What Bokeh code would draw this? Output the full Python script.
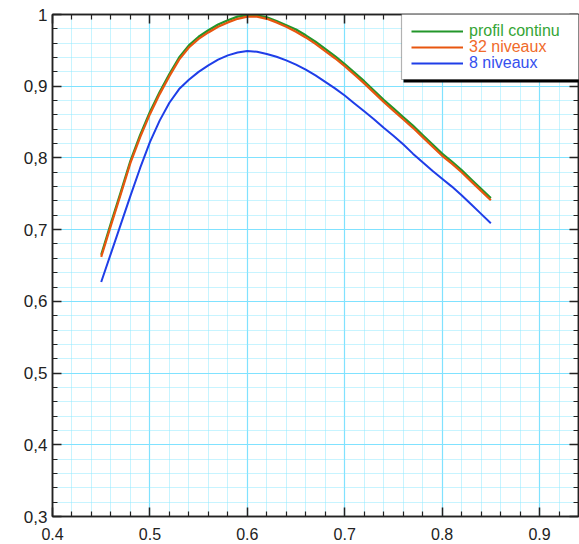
from bokeh.plotting import figure
from bokeh.models import (FixedTicker, LinearAxis, Range1d, Legend, LegendItem,
                          BoxAnnotation, CustomJSTickFormatter)
from bokeh.embed import file_html
from bokeh.resources import INLINE

# ---- data ----
x_vals = [0.45, 0.46, 0.47, 0.48, 0.49, 0.50, 0.51, 0.52, 0.53, 0.54, 0.55,
          0.56, 0.57, 0.58, 0.59, 0.60, 0.61, 0.62, 0.63, 0.64, 0.65, 0.66,
          0.67, 0.68, 0.69, 0.70, 0.71, 0.72, 0.73, 0.74, 0.75, 0.76, 0.77,
          0.78, 0.79, 0.80, 0.81, 0.82, 0.83, 0.84, 0.85]
profil_continu = [0.665, 0.709, 0.752, 0.796, 0.832, 0.864, 0.892, 0.917, 0.940, 0.957,
                  0.969, 0.978, 0.986, 0.992, 0.997, 0.999, 0.999, 0.996, 0.991, 0.985,
                  0.979, 0.971, 0.962, 0.952, 0.942, 0.931, 0.919, 0.907, 0.894, 0.881,
                  0.869, 0.857, 0.845, 0.832, 0.819, 0.806, 0.795, 0.783, 0.770, 0.757, 0.744]
niveaux_32 = [0.662, 0.706, 0.749, 0.793, 0.829, 0.861, 0.889, 0.914, 0.937, 0.954,
              0.966, 0.975, 0.983, 0.989, 0.994, 0.997, 0.997, 0.994, 0.989, 0.983,
              0.976, 0.968, 0.959, 0.949, 0.939, 0.928, 0.916, 0.904, 0.891, 0.878,
              0.866, 0.854, 0.842, 0.829, 0.816, 0.803, 0.792, 0.780, 0.767, 0.754, 0.741]
niveaux_8 = [0.627, 0.667, 0.707, 0.747, 0.786, 0.822, 0.852, 0.877, 0.896, 0.909,
             0.920, 0.929, 0.937, 0.943, 0.947, 0.949, 0.948, 0.945, 0.941, 0.936,
             0.930, 0.923, 0.915, 0.906, 0.897, 0.887, 0.876, 0.865, 0.854, 0.842,
             0.831, 0.819, 0.806, 0.794, 0.782, 0.771, 0.760, 0.748, 0.735, 0.722, 0.709]
series_labels = ["profil continu", "32 niveaux", "8 niveaux"]
x_major = [0.4, 0.5, 0.6, 0.7, 0.8, 0.9]
x_minor = [0.42, 0.44, 0.46, 0.48, 0.52, 0.54, 0.56, 0.58, 0.62, 0.64, 0.66, 0.68,
           0.72, 0.74, 0.76, 0.78, 0.82, 0.84, 0.86, 0.88, 0.92]
y_major = [0.3, 0.4, 0.5, 0.6, 0.7, 0.8, 0.9, 1.0]
y_minor = [0.32, 0.34, 0.36, 0.38, 0.42, 0.44, 0.46, 0.48, 0.52, 0.54, 0.56, 0.58,
           0.62, 0.64, 0.66, 0.68, 0.72, 0.74, 0.76, 0.78, 0.82, 0.84, 0.86, 0.88,
           0.92, 0.94, 0.96, 0.98]

# ---- styles ----
C_GREEN = "#22962a"
C_ORANGE = "#e8560f"
C_BLUE = "#1f3ee8"
T_GREEN = "#35a535"
T_ORANGE = "#f06a2a"
T_BLUE = "#3550ee"
FONT = "Liberation Sans"
FW, FH = 526, 502
X0, X1, Y0, Y1 = 0.4, 0.94, 0.3, 1.0

p = figure(frame_width=FW, frame_height=FH, output_backend="svg", toolbar_location=None,
           x_range=Range1d(X0, X1), y_range=Range1d(Y0, Y1),
           min_border_left=52, min_border_right=1, min_border_top=14, min_border_bottom=28,
           x_axis_location=None, y_axis_location=None)
p.outline_line_color = "#222222"
p.outline_line_width = 1.5
p.background_fill_color = "white"
p.border_fill_color = "white"

xt = FixedTicker(ticks=x_major, minor_ticks=x_minor)
yt = FixedTicker(ticks=y_major, minor_ticks=y_minor)

fx = CustomJSTickFormatter(code="return tick.toFixed(1);")
fy = CustomJSTickFormatter(code="return (Math.abs(tick-1)<1e-9) ? '1' : tick.toFixed(1).replace('.', ',');")
fnone = CustomJSTickFormatter(code="return '';")

def style_axis(ax, show_labels, size):
    ax.axis_line_color = "#222222"
    ax.axis_line_width = 1.5
    ax.major_tick_in = 9
    ax.major_tick_out = 0
    ax.minor_tick_in = 5
    ax.minor_tick_out = 0
    ax.major_tick_line_color = "#222222"
    ax.minor_tick_line_color = "#222222"
    ax.major_tick_line_width = 1.5
    ax.minor_tick_line_width = 1.2
    if show_labels:
        ax.major_label_text_font = FONT
        ax.major_label_text_font_size = size
        ax.major_label_text_color = "#222222"
    else:
        ax.major_label_standoff = 0

bx = LinearAxis(ticker=xt, formatter=fx)
style_axis(bx, True, "16px")
bx.major_label_standoff = 11
bx.major_label_text_line_height = 0.9
ly = LinearAxis(ticker=yt, formatter=fy)
style_axis(ly, True, "17px")
ly.major_label_standoff = 5
tx = LinearAxis(ticker=xt, formatter=fnone)
style_axis(tx, False, None)
ry = LinearAxis(ticker=yt, formatter=fnone)
style_axis(ry, False, None)
p.add_layout(bx, "below")
p.add_layout(ly, "left")
p.add_layout(tx, "above")
p.add_layout(ry, "right")

p.xgrid.ticker = xt
p.ygrid.ticker = yt
for g in (p.xgrid, p.ygrid):
    g.grid_line_color = "#80e2ff"
    g.grid_line_width = 1.2
    g.minor_grid_line_color = "#8ee8ff"
    g.minor_grid_line_dash = "1 1"
    g.minor_grid_line_width = 1

r_g = p.line(x_vals, profil_continu, line_color=C_GREEN, line_width=2.2)
r_o = p.line(x_vals, niveaux_32, line_color=C_ORANGE, line_width=2.2)
r_b = p.line(x_vals, niveaux_8, line_color=C_BLUE, line_width=2)

# ---- legend box (pixel geometry converted to data units) ----
sx = (X1 - X0) / FW
sy = (Y1 - Y0) / FH
BOX_W, BOX_H = 177, 65
shadow = BoxAnnotation(left=X1 - (BOX_W - 2) * sx, right=X1 + 5 * sx,
                       bottom=Y1 - (BOX_H + 3) * sy, top=Y1 - 2 * sy,
                       fill_color="black", fill_alpha=1, line_alpha=0)
box = BoxAnnotation(left=X1 - BOX_W * sx, right=X1 + 5 * sx,
                    bottom=Y1 - BOX_H * sy, top=Y1 + 2 * sy,
                    fill_color="white", fill_alpha=1, line_color="black", line_width=1.2)
p.add_layout(shadow)
p.add_layout(box)

rows = [(r_g, series_labels[0], T_GREEN, 18.0),
        (r_o, series_labels[1], T_ORANGE, 33.5),
        (r_b, series_labels[2], T_BLUE, 49.5)]
LH = 16
for rend, lab, col, cy in rows:
    lg = Legend(items=[LegendItem(label=lab, renderers=[rend])],
                location=(FW - 167, FH - cy - LH / 2),
                padding=0, margin=0, spacing=0,
                border_line_alpha=0, background_fill_alpha=0,
                glyph_width=52, glyph_height=LH, label_height=LH,
                label_standoff=6, label_text_font=FONT,
                label_text_font_size="16px", label_text_color=col,
                label_text_baseline="middle")
    p.add_layout(lg, "center")

open("out.html", "w").write(file_html(p, INLINE))
